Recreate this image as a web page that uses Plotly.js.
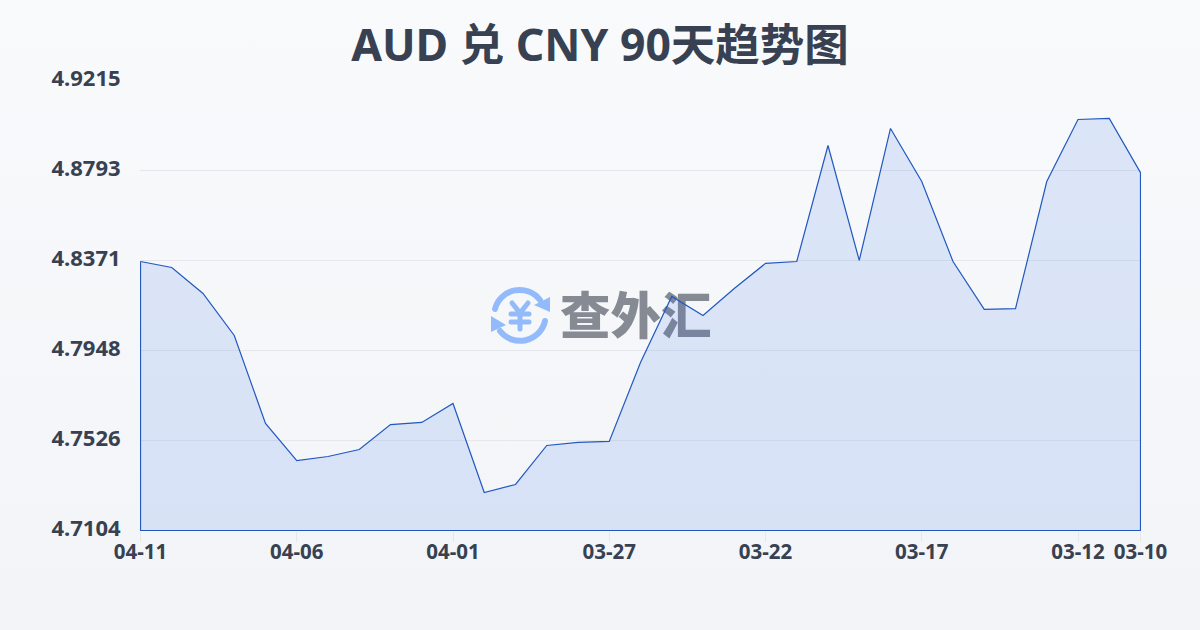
<!DOCTYPE html>
<html><head><meta charset="utf-8">
<script src="https://cdn.plot.ly/plotly-3.0.1.min.js"></script>
<style>
html,body{margin:0;padding:0;width:1200px;height:630px;overflow:hidden;background:linear-gradient(180deg,#f8fafc 0%,#f2f4f7 100%);}
#mark{position:absolute;left:0;top:0;width:1200px;height:630px;z-index:0;}
#wm{position:absolute;left:560px;top:276px;font:900 50.5px/72px "Noto Sans CJK SC",sans-serif;color:#868a93;white-space:nowrap;}
#chart{position:absolute;left:0;top:0;width:1200px;height:630px;z-index:1;}
</style></head><body>
<div id="mark">
<svg width="1200" height="630" style="position:absolute;left:0;top:0">
<g fill="none" stroke="#93bbfb" stroke-width="6" stroke-linecap="round">
<path d="M495 309 A25.5 25.5 0 0 1 540 300"/>
<path d="M545 321 A25.5 25.5 0 0 1 500 331"/>
<path d="M512 303 L520 313 L528 303 M511 314 H529 M511 322 H529 M520 313 V329" stroke-width="5"/>
</g>
<path d="M550 297 V312 L534 305 Z" fill="#93bbfb"/>
<path d="M491 316 V332 L506 325 Z" fill="#93bbfb"/>
</svg>
<div id="wm">查外汇</div>
</div>
<div id="chart"></div>
<script>
const dates = ["04-11","04-10","04-09","04-08","04-07","04-06","04-05","04-04","04-03","04-02","04-01","03-31","03-30","03-29","03-28","03-27","03-26","03-25","03-24","03-23","03-22","03-21","03-20","03-19","03-18","03-17","03-16","03-15","03-14","03-13","03-12","03-11","03-10"];
const rates = [4.8366,4.8338,4.8216,4.8019,4.7606,4.7432,4.7451,4.7484,4.7601,4.7611,4.7700,4.7282,4.7320,4.7503,4.7517,4.7522,4.7892,4.8202,4.8113,4.8239,4.8357,4.8366,4.8910,4.8371,4.8990,4.8741,4.8366,4.8141,4.8145,4.8741,4.9032,4.9037,4.8783];
const xTicks = ["04-11","04-06","04-01","03-27","03-22","03-17","03-12","03-10"];
const yTicks = [4.7104,4.7526,4.7948,4.8371,4.8793,4.9215];
const yLabels = ["4.7104","4.7526","4.7948","4.8371","4.8793","4.9215"];
const yFloor = 4.7104, yCeil = 4.9215;
const first = dates[0], last = dates[dates.length-1];
const textCol = "#374151";
const fontFam = '"Noto Sans","Noto Sans CJK SC",sans-serif';
const halfY = 0.5*(yCeil-yFloor)/450;
const halfX = 0.5*(dates.length-1)/1000;
Plotly.newPlot("chart",[{
  type:"scatter",mode:"lines",
  x:[...dates,last,first,first],
  y:[...rates,yFloor,yFloor,rates[0]],
  fill:"toself",fillcolor:"rgba(37,99,235,0.13)",
  line:{color:"#2158c0",width:1.2,shape:"linear"},
  hoverinfo:"skip",cliponaxis:false
}],{
  width:1200,height:630,
  paper_bgcolor:"rgba(0,0,0,0)",plot_bgcolor:"rgba(0,0,0,0)",
  margin:{l:140,r:59,t:80,b:99},
  showlegend:false,
  title:{text:"AUD 兑 CNY 90天趋势图",x:0.5,xanchor:"center",y:0.928,yanchor:"middle",
    font:{family:fontFam,size:44.5,color:textCol,weight:700}},
  xaxis:{type:"category",categoryorder:"array",categoryarray:dates,range:[-halfX,dates.length-1+halfX],
    tickmode:"array",tickvals:xTicks,ticktext:xTicks,
    showgrid:false,zeroline:false,showline:false,
    ticks:"outside",ticklen:10,tickcolor:"#e5e7eb",tickwidth:1,
    ticklabelstandoff:-8,tickangle:0,
    tickfont:{family:fontFam,size:20.5,color:textCol,weight:700}},
  yaxis:{range:[yFloor-halfY,yCeil+halfY],tickmode:"array",tickvals:yTicks,ticktext:yLabels,
    showgrid:true,gridcolor:"#e5e7eb",gridwidth:1,zeroline:false,showline:false,
    ticks:"outside",ticklen:14,tickcolor:"rgba(0,0,0,0)",ticklabelshift:-2,
    tickfont:{family:fontFam,size:22,color:textCol,weight:700}}
},{displayModeBar:false,staticPlot:true});
</script>
</body></html>
